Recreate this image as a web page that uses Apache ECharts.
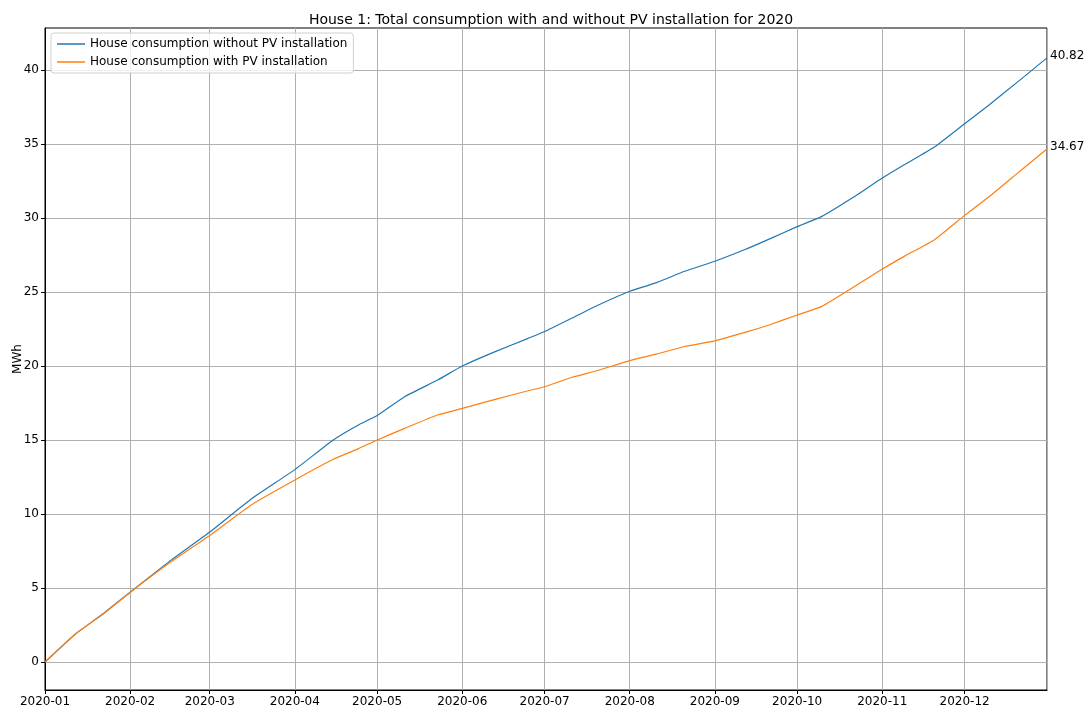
<!DOCTYPE html>
<html style="height: 100%">
<head>
    <meta charset="utf-8">
</head>
<body style="height: 100%; margin: 0; background: #fff">
<div id="container" style="width: 1091px; height: 711px"></div>
<script type="text/javascript" src="https://cdn.jsdelivr.net/npm/echarts@6/dist/echarts.min.js"></script>
<script type="text/javascript">
    // readings taken off the reference curves (MWh, cumulative)
    var dates = ['2020-01-01', '2020-01-12', '2020-01-22', '2020-02-01', '2020-02-15', '2020-03-01',
        '2020-03-16', '2020-04-01', '2020-04-15', '2020-04-24', '2020-05-01', '2020-05-11',
        '2020-05-23', '2020-06-01', '2020-06-13', '2020-06-25', '2020-07-01', '2020-07-11',
        '2020-07-20', '2020-08-01', '2020-08-11', '2020-08-21', '2020-09-01', '2020-09-12',
        '2020-09-21', '2020-10-01', '2020-10-10', '2020-10-21', '2020-11-01', '2020-11-09',
        '2020-11-20', '2020-12-01', '2020-12-10', '2020-12-21', '2020-12-31'];
    var withoutPV = [0, 1.88, 3.24, 4.72, 6.75, 8.78,
        11.0, 13.0, 15.0, 16.0, 16.65, 17.93,
        19.05, 20.0, 20.97, 21.87, 22.33, 23.24,
        24.07, 25.05, 25.65, 26.4, 27.08, 27.87,
        28.59, 29.42, 30.11, 31.35, 32.7, 33.6,
        34.8, 36.37, 37.66, 39.3, 40.82];
    var withPV = [0, 1.88, 3.22, 4.70, 6.65, 8.55,
        10.6, 12.3, 13.7, 14.4, 15.0, 15.79,
        16.69, 17.14, 17.75, 18.33, 18.6, 19.24,
        19.68, 20.37, 20.82, 21.32, 21.7, 22.27,
        22.79, 23.45, 24.03, 25.27, 26.55, 27.41,
        28.54, 30.18, 31.46, 33.15, 34.67];
    var yTicks = [0, 5, 10, 15, 20, 25, 30, 35, 40];
    var seriesNames = ['House consumption without PV installation', 'House consumption with PV installation'];

    var dom = document.getElementById("container");
    var myChart = echarts.init(dom, null, {renderer: 'canvas'});
    var font = 'DejaVu Sans';
    var DAY = 86400000;

    function pairs(vals) {
        return dates.map(function (d, i) { return [d, vals[i]]; });
    }

    function endLabel() {
        return {
            show: true, distance: 3, offset: [0, -2], color: '#000', fontFamily: font, fontSize: 12,
            formatter: function (p) { return p.value[1].toFixed(2); }
        };
    }

    var option = {
        backgroundColor: '#fff',
        animation: false,
        textStyle: {fontFamily: font},
        title: {
            text: 'House 1: Total consumption with and without PV installation for 2020',
            left: 546, top: 8, textAlign: 'center',
            textStyle: {fontFamily: font, fontSize: 14, fontWeight: 'normal', color: '#000'}
        },
        legend: {
            orient: 'vertical',
            left: 51, top: 33,
            padding: [5, 6, 5, 6],
            itemGap: 6,
            itemWidth: 28, itemHeight: 1.5,
            icon: 'rect',
            backgroundColor: 'rgba(255,255,255,0.8)',
            borderColor: '#d0d0d0', borderWidth: 1, borderRadius: 3,
            textStyle: {fontFamily: font, fontSize: 12, color: '#000'},
            data: seriesNames
        },
        grid: {
            left: 45, right: 44, top: 28, bottom: 21,
            outerBoundsMode: 'none', containLabel: false,
            show: true, borderColor: '#000', borderWidth: 1
        },
        xAxis: {
            type: 'time',
            min: '2020-01-01', max: '2020-12-31',
            minInterval: 28 * DAY, maxInterval: 31 * DAY,
            axisLine: {onZero: false, lineStyle: {color: '#000'}},
            axisTick: {show: true, length: 4, lineStyle: {color: '#000'}},
            axisLabel: {
                fontFamily: font, fontSize: 12, color: '#000', margin: 6,
                showMaxLabel: false,
                formatter: function (v) { return echarts.time.format(v, '{yyyy}-{MM}', false); }
            },
            splitLine: {show: true, lineStyle: {color: '#b0b0b0', width: 1}}
        },
        yAxis: {
            type: 'value',
            min: -1.89, max: 42.84,
            name: 'MWh', nameLocation: 'middle', nameGap: 21, nameRotate: 90,
            nameMoveOverlap: false,
            nameTextStyle: {fontFamily: font, fontSize: 12, color: '#000'},
            axisLine: {show: true, onZero: false, lineStyle: {color: '#000'}},
            axisTick: {show: true, length: 4, customValues: yTicks, lineStyle: {color: '#000'}},
            axisLabel: {
                fontFamily: font, fontSize: 12, color: '#000', margin: 6,
                customValues: yTicks
            },
            splitLine: {show: true, lineStyle: {color: '#b0b0b0', width: 1}}
        },
        series: [
            {
                name: seriesNames[0], type: 'line', symbol: 'none', smooth: 0.15,
                color: '#1f77b4', lineStyle: {width: 1.2},
                data: pairs(withoutPV),
                endLabel: endLabel()
            },
            {
                name: seriesNames[1], type: 'line', symbol: 'none', smooth: 0.15,
                color: '#ff7f0e', lineStyle: {width: 1.2},
                data: pairs(withPV),
                endLabel: endLabel()
            }
        ]
    };
    myChart.setOption(option, true);
</script>
</body>
</html>
